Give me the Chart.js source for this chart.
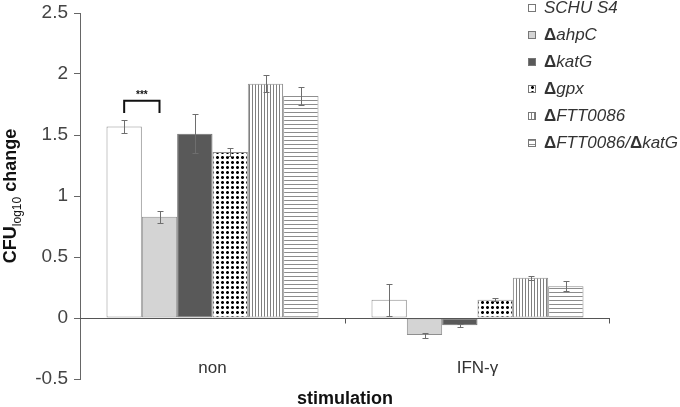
<!DOCTYPE html>
<html>
<head>
<meta charset="utf-8">
<script src="https://cdn.jsdelivr.net/npm/chart.js@4/dist/chart.umd.min.js"></script>
<style>
  html, body { margin: 0; padding: 0; background: #fff; }
  #wrap { width: 680px; height: 407px; position: relative; }
</style>
</head>
<body>
<div id="wrap"><canvas id="chart"></canvas></div>
<script>
// stimulation groups
const categories = ['non', 'IFN-\u03b3'];

// strain names (Δ is drawn upright, the rest italic)
const strainLabels = ['SCHU S4', '\u0394ahpC', '\u0394katG', '\u0394gpx', '\u0394FTT0086', '\u0394FTT0086/\u0394katG'];

// CFU log10 change, per strain: [non, IFN-γ]
const schuS4 = [1.57, 0.15];
const ahpC = [0.83, -0.14];
const katG = [1.51, -0.06];
const gpx = [1.36, 0.15];
const ftt0086 = [1.92, 0.33];
const ftt0086KatG = [1.82, 0.26];

// error bar half-widths
const schuS4Err = [0.055, 0.13];
const ahpCErr = [0.05, 0.02];
const katGErr = [0.16, 0.01];
const gpxErr = [0.03, 0.01];
const ftt0086Err = [0.07, 0.015];
const ftt0086KatGErr = [0.075, 0.04];

const yTicks = [-0.5, 0, 0.5, 1, 1.5, 2, 2.5];

const seriesValues = [schuS4, ahpC, katG, gpx, ftt0086, ftt0086KatG];
const seriesErrors = [schuS4Err, ahpCErr, katGErr, gpxErr, ftt0086Err, ftt0086KatGErr];

const canvas = document.getElementById('chart');
const mainCtx = canvas.getContext('2d');

function makePattern(kind) {
    const tile = document.createElement('canvas');
    const t = tile.getContext('2d');
    if (kind === 'dots') {
        tile.width = 5; tile.height = 5;
        t.fillStyle = '#fff';
        t.fillRect(0, 0, 5, 5);
        t.fillStyle = '#777';
        t.fillRect(1, 1, 3, 3);
        t.fillStyle = '#000';
        t.fillRect(1, 2, 3, 1);
        t.fillRect(2, 1, 1, 3);
    } else if (kind === 'vlines') {
        tile.width = 3; tile.height = 1;
        t.fillStyle = '#fff';
        t.fillRect(0, 0, 3, 1);
        t.fillStyle = '#808080';
        t.fillRect(0, 0, 1, 1);
    } else {
        tile.width = 1; tile.height = 4;
        t.fillStyle = '#fff';
        t.fillRect(0, 0, 1, 4);
        t.fillStyle = '#8c8c8c';
        t.fillRect(0, 0, 1, 1);
    }
    return mainCtx.createPattern(tile, 'repeat');
}

const fills = ['#ffffff', '#d4d4d4', '#595959', makePattern('dots'), makePattern('vlines'), makePattern('hlines')];
const borders = ['#8f8f8f', '#8f8f8f', '#707070', '#8f8f8f', '#8f8f8f', '#8f8f8f'];

const datasets = seriesValues.map((vals, i) => ({
    label: strainLabels[i],
    data: vals,
    backgroundColor: fills[i],
    borderColor: borders[i],
    borderWidth: 1,
    borderSkipped: false
}));

const extras = {
    id: 'extras',
    afterDatasetsDraw(chart) {
        const ctx = chart.ctx;
        const area = chart.chartArea;
        const y = chart.scales.y;
        const x = chart.scales.x;
        const y0 = y.getPixelForValue(0);

        ctx.save();
        // error bars
        ctx.strokeStyle = '#6e6e6e';
        ctx.lineWidth = 1;
        seriesErrors.forEach((errs, i) => {
            const meta = chart.getDatasetMeta(i);
            meta.data.forEach((bar, j) => {
                const v = seriesValues[i][j];
                const top = Math.round(y.getPixelForValue(v + errs[j])) + 0.5;
                const bot = Math.round(y.getPixelForValue(v - errs[j])) + 0.5;
                const cx = Math.round(bar.x) + 0.5;
                ctx.beginPath();
                ctx.moveTo(cx, top); ctx.lineTo(cx, bot);
                ctx.moveTo(cx - 3, top); ctx.lineTo(cx + 3, top);
                ctx.moveTo(cx - 3, bot); ctx.lineTo(cx + 3, bot);
                ctx.stroke();
            });
        });

        // x axis line at zero
        ctx.strokeStyle = '#555';
        ctx.beginPath();
        const yl = Math.round(y0) + 0.5;
        ctx.moveTo(area.left, yl);
        ctx.lineTo(area.right, yl);
        const mid = Math.round((area.left + area.right) / 2) + 0.5;
        ctx.moveTo(mid, yl); ctx.lineTo(mid, yl + 5);
        ctx.moveTo(area.right - 0.5, yl); ctx.lineTo(area.right - 0.5, yl + 5);
        ctx.stroke();

        // significance bracket
        const m0 = chart.getDatasetMeta(0).data[0];
        const m1 = chart.getDatasetMeta(1).data[0];
        const by = y.getPixelForValue(1.78);
        const bl = y.getPixelForValue(1.68);
        ctx.strokeStyle = '#111';
        ctx.lineWidth = 2;
        ctx.beginPath();
        ctx.moveTo(m0.x, bl); ctx.lineTo(m0.x, by); ctx.lineTo(m1.x, by); ctx.lineTo(m1.x, bl);
        ctx.stroke();
        ctx.fillStyle = '#111';
        ctx.font = 'bold 10px "Liberation Sans", Arial, sans-serif';
        ctx.textAlign = 'center';
        ctx.textBaseline = 'alphabetic';
        ctx.fillText('***', (m0.x + m1.x) / 2, by - 3);

        // category labels
        ctx.fillStyle = '#333';
        ctx.font = '17px "Liberation Sans", Arial, sans-serif';
        ctx.textBaseline = 'middle';
        categories.forEach((c, j) => {
            ctx.fillText(c, x.getPixelForValue(j), 368);
        });

        // x title
        ctx.fillStyle = '#111';
        ctx.font = 'bold 18px "Liberation Sans", Arial, sans-serif';
        ctx.fillText('stimulation', (area.left + area.right) / 2, 399);

        // y title
        ctx.save();
        ctx.translate(16, (area.top + area.bottom) / 2);
        ctx.rotate(-Math.PI / 2);
        ctx.textAlign = 'left';
        ctx.textBaseline = 'alphabetic';
        const bigFont = 'bold 18px "Liberation Sans", Arial, sans-serif';
        const subFont = '12px "Liberation Sans", Arial, sans-serif';
        ctx.font = bigFont;
        const w1 = ctx.measureText('CFU').width;
        const w3 = ctx.measureText(' change').width;
        ctx.font = subFont;
        const w2 = ctx.measureText('log10').width;
        let sx = -(w1 + w2 + w3) / 2;
        ctx.font = bigFont;
        ctx.fillText('CFU', sx, 0);
        sx += w1;
        ctx.font = subFont;
        ctx.fillText('log10', sx, 5);
        sx += w2;
        ctx.font = bigFont;
        ctx.fillText(' change', sx, 0);
        ctx.restore();

        // legend
        ctx.textAlign = 'left';
        ctx.textBaseline = 'middle';
        strainLabels.forEach((lab, i) => {
            const ly = 8 + i * 27;
            ctx.fillStyle = fills[i];
            ctx.fillRect(528, ly - 4, 8, 8);
            ctx.strokeStyle = '#777';
            ctx.lineWidth = 1;
            ctx.strokeRect(528.5, ly - 3.5, 7, 7);
            let lx = 544;
            ctx.fillStyle = '#333';
            lab.split(/(\u0394)/).forEach(part => {
                if (!part) return;
                ctx.font = part === '\u0394'
                    ? 'bold 17px "Liberation Sans", Arial, sans-serif'
                    : 'italic 17px "Liberation Sans", Arial, sans-serif';
                ctx.fillText(part, lx, ly);
                lx += ctx.measureText(part).width;
            });
        });
        ctx.restore();
    }
};

new Chart(canvas, {
    type: 'bar',
    data: { labels: categories, datasets: datasets },
    options: {
        responsive: true,
        maintainAspectRatio: false,
        animation: false,
        layout: { padding: { top: 13, bottom: 28, left: 0, right: 70 } },
        plugins: { legend: { display: false }, tooltip: { enabled: false } },
        datasets: { bar: { categoryPercentage: 0.8, barPercentage: 1.0 } },
        scales: {
            x: { display: false },
            y: {
                min: -0.5,
                max: 2.5,
                afterBuildTicks(scale) {
                    scale.ticks = yTicks.map(v => ({ value: v }));
                },
                afterFit(scale) {
                    scale.width = 80;
                    scale.paddingTop = 0;
                    scale.paddingBottom = 0;
                },
                grid: { drawOnChartArea: false, drawTicks: true, tickLength: 6, color: '#666' },
                border: { color: '#666', width: 1 },
                ticks: {
                    color: '#444',
                    padding: 6,
                    font: { family: '"Liberation Sans", Arial, sans-serif', size: 19 },
                    callback: v => String(v)
                }
            }
        }
    },
    plugins: [extras]
});
</script>
</body>
</html>
